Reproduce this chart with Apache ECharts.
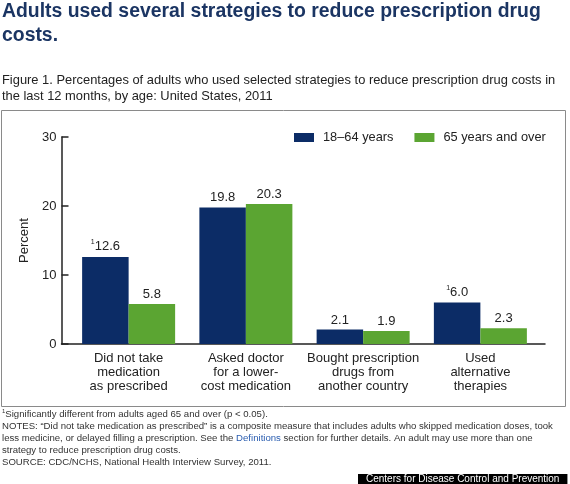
<!DOCTYPE html>
<html>
<head>
<meta charset="utf-8">
<script src="https://cdn.jsdelivr.net/npm/echarts@6/dist/echarts.min.js"></script>
<style>
html,body{margin:0;padding:0;background:#fff;}
#chart{width:570px;height:484px;}
</style>
</head>
<body>
<div id="chart"></div>
<script>
// ---- data ----
var categories = [
  'Did not take\nmedication\nas prescribed',
  'Asked doctor\nfor a lower-\ncost medication',
  'Bought prescription\ndrugs from\nanother country',
  'Used\nalternative\ntherapies'
];
var seriesNames = ['18\u201364 years', '65 years and over'];
var age18to64 = [12.6, 19.8, 2.1, 6.0];
var age65plus = [5.8, 20.3, 1.9, 2.3];
var significant = [true, false, false, true];
var yMin = 0, yMax = 30, yInterval = 10;

var NAVY = '#0c2c66';
var GREEN = '#5ba532';
var FONT = '"Liberation Sans", Arial, Helvetica, sans-serif';

var chart = echarts.init(document.getElementById('chart'), null, {renderer: 'canvas'});

function labelFmt(sigArr) {
  return function (p) {
    var s = p.value.toFixed(1);
    if (sigArr && sigArr[p.dataIndex]) return '{sup|1}{v|' + s + '}';
    return '{v|' + s + '}';
  };
}
var labelRich = {
  v: {fontSize: 13, color: '#222', fontFamily: FONT},
  sup: {fontSize: 7, color: '#222', fontFamily: FONT, padding: [0, 0, 8, 0]}
};

var option = {
  backgroundColor: '#fff',
  animation: false,
  textStyle: {fontFamily: FONT},
  title: [
    {
      text: 'Adults used several strategies to reduce prescription drug\ncosts.',
      left: 2, top: 0, padding: 0,
      textStyle: {fontSize: 19.4, fontWeight: 'bold', color: '#1b3563', lineHeight: 24, fontFamily: FONT}
    },
    {
      text: 'Figure 1. Percentages of adults who used selected strategies to reduce prescription drug costs in\nthe last 12 months, by age: United States, 2011',
      left: 2, top: 73, padding: 0,
      textStyle: {fontSize: 12.9, fontWeight: 'normal', color: '#222', lineHeight: 15.5, fontFamily: FONT}
    },
    {
      text: '{s|1}{t|Significantly different from adults aged 65 and over (p < 0.05).}\n' +
            '{t|NOTES: \u201cDid not take medication as prescribed\u201d is a composite measure that includes adults who skipped medication doses, took}\n' +
            '{t|less medicine, or delayed filling a prescription. See the }{l|Definitions}{t| section for further details. An adult may use more than one}\n' +
            '{t|strategy to reduce prescription drug costs.}\n' +
            '{t|SOURCE: CDC/NCHS, National Health Interview Survey, 2011.}',
      left: 2, top: 408, padding: 0,
      textStyle: {
        fontSize: 9.6, color: '#333', lineHeight: 12, fontWeight: 'normal', fontFamily: FONT,
        rich: {
          t: {fontSize: 9.6, color: '#333', lineHeight: 12, fontFamily: FONT},
          l: {fontSize: 9.6, color: '#2a5db0', lineHeight: 12, fontFamily: FONT},
          s: {fontSize: 6, color: '#333', lineHeight: 12, fontFamily: FONT, padding: [0, 0, 5, 0]}
        }
      }
    },
    {
      text: 'Centers for Disease Control and Prevention',
      left: 358, top: 474, padding: [0, 8, 0, 8],
      backgroundColor: '#000',
      textStyle: {fontSize: 10, color: '#fff', fontWeight: 'normal', lineHeight: 10, fontFamily: FONT}
    }
  ],
  graphic: [
    {
      type: 'rect', silent: true, z: -1,
      shape: {x: 1.5, y: 110.5, width: 564, height: 296},
      style: {fill: 'none', stroke: '#8a8a8a', lineWidth: 1}
    }
  ],
  legend: {
    data: seriesNames,
    left: 294, top: 131, padding: 0,
    itemWidth: 20, itemHeight: 9, itemGap: 21,
    icon: 'rect',
    textStyle: {fontSize: 12.8, color: '#222', fontFamily: FONT, padding: [0, 0, 0, 4]}
  },
  grid: [
    {left: 70, right: 31, top: 137, bottom: 140, containLabel: false},
    {left: 61.5, right: 25, top: 137, bottom: 140, containLabel: false}
  ],
  xAxis: [
    {
      type: 'category', gridIndex: 0, data: categories,
      axisLine: {show: false}, axisTick: {show: false},
      axisLabel: {fontSize: 13, color: '#222', lineHeight: 14, margin: 7, interval: 0, fontFamily: FONT}
    },
    {
      type: 'value', gridIndex: 1, min: 0, max: 1,
      axisLine: {show: true, onZero: false, lineStyle: {color: '#222', width: 1.5}},
      axisTick: {show: false}, axisLabel: {show: false}, splitLine: {show: false}
    }
  ],
  yAxis: [
    {
      type: 'value', gridIndex: 0, min: yMin, max: yMax, interval: yInterval, show: false
    },
    {
      type: 'value', gridIndex: 1, min: yMin, max: yMax, interval: yInterval,
      name: 'Percent', nameLocation: 'middle', nameGap: 25, nameRotate: 90,
      nameTextStyle: {fontSize: 13, color: '#222', fontFamily: FONT},
      axisLine: {show: true, onZero: false, lineStyle: {color: '#222', width: 1.5}},
      axisTick: {show: true, inside: true, length: 7, lineStyle: {color: '#222', width: 1.5}},
      axisLabel: {fontSize: 13, color: '#222', margin: 5, fontFamily: FONT},
      splitLine: {show: false}
    }
  ],
  series: [
    {
      name: seriesNames[0], type: 'bar', xAxisIndex: 0, yAxisIndex: 0,
      data: age18to64, barWidth: 46.5, barGap: '0%',
      itemStyle: {color: NAVY},
      label: {show: true, position: 'top', distance: 3, formatter: labelFmt(significant), rich: labelRich}
    },
    {
      name: seriesNames[1], type: 'bar', xAxisIndex: 0, yAxisIndex: 0,
      data: age65plus, barWidth: 46.5, barGap: '0%',
      itemStyle: {color: GREEN},
      label: {show: true, position: 'top', distance: 3, formatter: labelFmt(null), rich: labelRich}
    }
  ]
};
chart.setOption(option);
</script>
</body>
</html>
